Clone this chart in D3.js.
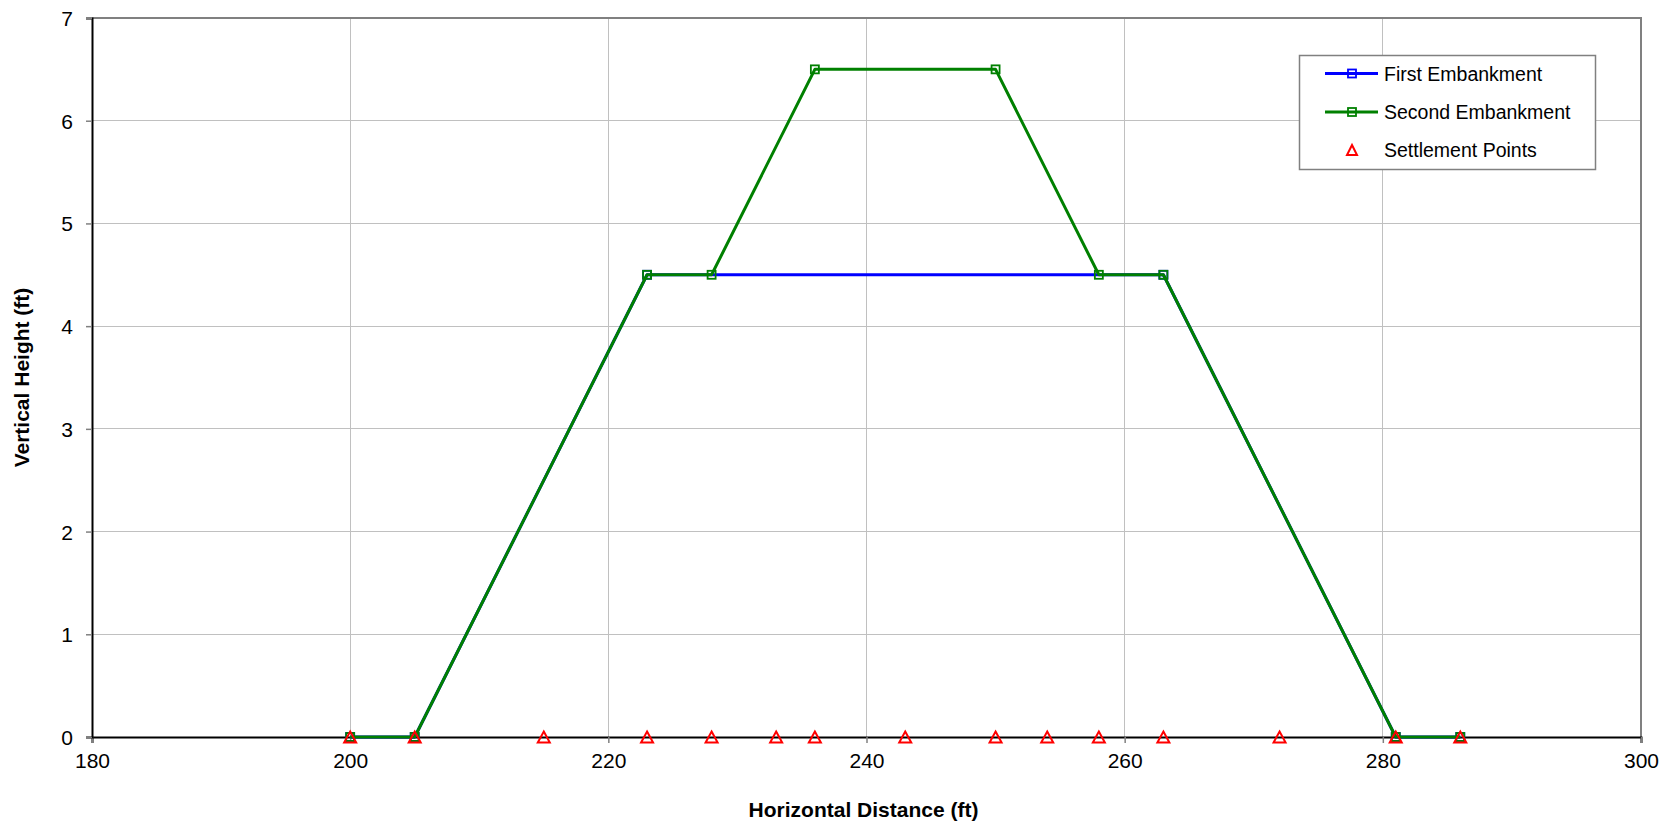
<!DOCTYPE html>
<html>
<head>
<meta charset="utf-8">
<script src="https://cdn.jsdelivr.net/npm/d3@7"></script>
<style>
  html, body { margin: 0; padding: 0; background: #ffffff; }
  svg { display: block; font-family: "Liberation Sans", Arial, sans-serif; }
</style>
</head>
<body>
<svg id="chart" width="1679" height="835"></svg>
<script>
// Embankment cross-sections (horizontal distance, height) in feet
const firstX = [200, 205, 223, 263, 281, 286];
const firstY = [0, 0, 4.5, 4.5, 0, 0];
const secondX = [200, 205, 223, 228, 236, 250, 258, 263, 281, 286];
const secondY = [0, 0, 4.5, 4.5, 6.5, 6.5, 4.5, 4.5, 0, 0];
// Settlement monitoring locations along the ground surface
const settleX = [200, 205, 215, 223, 228, 233, 236, 243, 250, 254, 258, 263, 272, 281, 286];
const settleY = settleX.map(() => 0);
// Axis ticks
const xTicks = [180, 200, 220, 240, 260, 280, 300];
const yTicks = [0, 1, 2, 3, 4, 5, 6, 7];
const seriesNames = ["First Embankment", "Second Embankment", "Settlement Points"];

const svg = d3.select("#chart");
const plotL = 92, plotR = 1641, plotT = 18, plotB = 737;

const x = d3.scaleLinear().domain([180, 300]).range([plotL, plotR]);
const y = d3.scaleLinear().domain([0, 7]).range([plotB, plotT]);

// Gridlines
const grid = svg.append("g");
grid.selectAll("line.gx").data(xTicks.slice(1, -1)).join("line")
  .attr("x1", d => x(d)).attr("x2", d => x(d))
  .attr("y1", plotT).attr("y2", plotB)
  .attr("stroke", "#c0c0c0").attr("stroke-width", 1).attr("shape-rendering", "crispEdges");
grid.selectAll("line.gy").data(yTicks.slice(1, -1)).join("line")
  .attr("x1", plotL).attr("x2", plotR)
  .attr("y1", d => y(d)).attr("y2", d => y(d))
  .attr("stroke", "#c0c0c0").attr("stroke-width", 1).attr("shape-rendering", "crispEdges");

// Plot border (top / right)
svg.append("path")
  .attr("d", `M${plotL},${plotT}H${plotR}V${plotB}`)
  .attr("fill", "none").attr("stroke", "#808080").attr("stroke-width", 2);

// Axes
const xAxis = d3.axisBottom(x).tickValues(xTicks).tickSize(6).tickPadding(10).tickFormat(d3.format("d"));
const yAxis = d3.axisLeft(y).tickValues(yTicks).tickSize(6).tickPadding(13).tickFormat(d3.format("d"));

const gx = svg.append("g").attr("transform", `translate(0,${plotB})`).call(xAxis);
const gy = svg.append("g").attr("transform", `translate(${plotL},0)`).call(yAxis);
[gx, gy].forEach(g => {
  g.select(".domain").attr("stroke", "#000").attr("stroke-width", 2);
  g.selectAll(".tick line").attr("stroke", "#808080").attr("stroke-width", 1.5);
  g.selectAll(".tick text").attr("fill", "#000")
    .style("font-family", "'Liberation Sans', Arial, sans-serif").style("font-size", "21px");
});
gy.selectAll(".tick text").attr("dy", "0.36em");

// Axis titles
svg.append("text")
  .attr("x", (plotL + plotR) / 2 - 3).attr("y", 817)
  .attr("text-anchor", "middle").attr("font-weight", "bold").attr("font-size", "21px")
  .text("Horizontal Distance (ft)");
svg.append("text")
  .attr("transform", `translate(29,${(plotT + plotB) / 2}) rotate(-90)`)
  .attr("text-anchor", "middle").attr("font-weight", "bold").attr("font-size", "21px")
  .text("Vertical Height (ft)");

const line = d3.line().x(d => x(d[0])).y(d => y(d[1]));
const zip = (a, b) => a.map((v, i) => [v, b[i]]);

function drawSeries(xs, ys, color) {
  const pts = zip(xs, ys);
  svg.append("path").datum(pts).attr("d", line)
    .attr("fill", "none").attr("stroke", color).attr("stroke-width", 3)
    .attr("stroke-linejoin", "round");
  svg.append("g").selectAll("rect").data(pts).join("rect")
    .attr("x", d => x(d[0]) - 4).attr("y", d => y(d[1]) - 4)
    .attr("width", 8).attr("height", 8)
    .attr("fill", "none").attr("stroke", color).attr("stroke-width", 1.8);
}

drawSeries(firstX, firstY, "#0000ff");
drawSeries(secondX, secondY, "#008000");

// Triangle marker centred on its bounding box
const triPath = "M0,-5.5L6,5.5L-6,5.5Z";
svg.append("g").selectAll("path").data(zip(settleX, settleY)).join("path")
  .attr("d", triPath)
  .attr("transform", d => `translate(${x(d[0])},${y(d[1])})`)
  .attr("fill", "none").attr("stroke", "#ff0000").attr("stroke-width", 2);

// Legend
const lg = svg.append("g");
lg.append("rect").attr("x", 1299.5).attr("y", 55.5).attr("width", 296).attr("height", 114)
  .attr("fill", "#fff").attr("stroke", "#808080").attr("stroke-width", 1.5);
const rows = [73.5, 112, 150];
const colors = ["#0000ff", "#008000", "#ff0000"];
seriesNames.forEach((name, i) => {
  const ry = rows[i];
  if (i < 2) {
    lg.append("line").attr("x1", 1325).attr("x2", 1378).attr("y1", ry).attr("y2", ry)
      .attr("stroke", colors[i]).attr("stroke-width", 3);
    lg.append("rect").attr("x", 1348).attr("y", ry - 4).attr("width", 8).attr("height", 8)
      .attr("fill", "none").attr("stroke", colors[i]).attr("stroke-width", 1.8);
  } else {
    lg.append("path").attr("d", "M0,-5L5,5L-5,5Z").attr("transform", `translate(1352,${ry})`)
      .attr("fill", "none").attr("stroke", colors[i]).attr("stroke-width", 2);
  }
  lg.append("text").attr("x", 1384).attr("y", ry).attr("dy", "0.36em")
    .attr("font-size", "19.5px").attr("fill", "#000").text(name);
});
</script>
</body>
</html>
